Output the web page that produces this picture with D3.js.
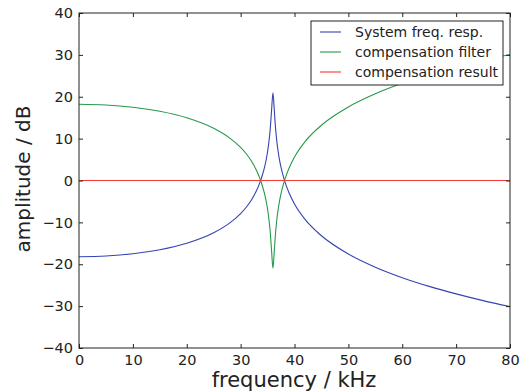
<!DOCTYPE html>
<html><head><meta charset="utf-8">
<script src="https://cdn.jsdelivr.net/npm/d3@7"></script>
<style>body{margin:0;background:#fff}svg{display:block}text{font-family:"DejaVu Sans",sans-serif;fill:#222}</style>
</head><body><svg id="c" width="521" height="392"></svg>
<script>
// frequency samples (kHz)
const freq = [0,5,10,15,20,25,28,30,31,32,33,33.5,34,34.5,34.75,35,35.25,35.5,35.75,36,36.25,36.5,36.75,37,37.25,37.5,38,38.5,39,40,42,45,50,55,60,65,70,75,80];
// system frequency response (dB)
const systemResp = [-18.2,-18.03,-17.5,-16.54,-14.99,-12.48,-10.13,-7.9,-6.45,-4.64,-2.27,-0.75,1.13,3.49,5.01,6.86,9.21,12.36,16.9,20.97,16.8,12.22,9.02,6.62,4.71,3.13,0.65,-1.35,-2.99,-5.61,-9.35,-13.2,-17.56,-20.7,-23.2,-25.28,-27.08,-28.68,-30.11];
// compensation filter (dB)
const compFilter = [18.2,18.03,17.5,16.54,14.99,12.48,10.13,7.9,6.45,4.64,2.27,0.75,-1.13,-3.49,-5.01,-6.86,-9.21,-12.36,-16.9,-20.97,-16.8,-12.22,-9.02,-6.62,-4.71,-3.13,-0.65,1.35,2.99,5.61,9.35,13.2,17.56,20.7,23.2,25.28,27.08,28.68,30.11];
// compensation result (dB)
const compResult = [0,0,0,0,0,0,0,0,0,0,0,0,0,0,0,0,0,0,0,0,0,0,0,0,0,0,0,0,0,0,0,0,0,0,0,0,0,0,0];
const xTicks = [0,10,20,30,40,50,60,70,80];
const yTicks = [-40,-30,-20,-10,0,10,20,30,40];
const seriesNames = ["System freq. resp.","compensation filter","compensation result"];
const colors = ["#3444b0","#259a48","#f23a3a"];

const svg = d3.select("#c");
const L=79,R=510,T=13,B=348;
const x = d3.scaleLinear().domain([0,80]).range([L,R]);
const y = d3.scaleLinear().domain([-40,40]).range([B,T]);

const g = svg.append("g");
svg.append("clipPath").attr("id","cl").append("rect").attr("x",L).attr("y",T).attr("width",R-L).attr("height",B-T);
const line = d3.line().x((d,i)=>x(freq[i])).y(d=>y(d)).curve(d3.curveMonotoneX);
const data=[systemResp,compFilter,compResult];
data.forEach((s,k)=>{
  g.append("path").attr("d",line(s)).attr("fill","none").attr("stroke",colors[k]).attr("stroke-width",1.1).attr("clip-path","url(#cl)");
});

// axes
const fs = 14.5;
const ax = d3.axisBottom(x).tickValues(xTicks).tickSize(-4).tickPadding(7).tickFormat(d=>String(d));
const axT = d3.axisTop(x).tickValues(xTicks).tickSize(-4).tickFormat("");
const ay = d3.axisLeft(y).tickValues(yTicks).tickSize(-4).tickPadding(6).tickFormat(d=>d<0?"\u2212"+(-d):String(d));
const ayR = d3.axisRight(y).tickValues(yTicks).tickSize(-4).tickFormat("");
function style(sel){sel.select(".domain").remove();sel.selectAll("line").attr("stroke","#222");sel.selectAll("text").attr("font-size",fs).attr("font-family","DejaVu Sans").attr("fill","#222");}
svg.append("g").attr("transform",`translate(0,${B})`).call(ax).call(style);
svg.append("g").attr("transform",`translate(0,${T})`).call(axT).call(style);
svg.append("g").attr("transform",`translate(${L},0)`).call(ay).call(style);
svg.append("g").attr("transform",`translate(${R},0)`).call(ayR).call(style);
svg.append("rect").attr("x",L).attr("y",T).attr("width",R-L).attr("height",B-T).attr("fill","none").attr("stroke","#222").attr("stroke-width",1);

svg.append("text").attr("x",294).attr("y",387).attr("text-anchor","middle").attr("font-size",21).text("frequency / kHz");
svg.append("text").attr("transform",`translate(30,179) rotate(-90)`).attr("text-anchor","middle").attr("font-size",20).text("amplitude / dB");

// legend
const lg = svg.append("g");
lg.append("rect").attr("x",311).attr("y",21).attr("width",192).attr("height",64).attr("fill","#fff").attr("stroke","#222").attr("stroke-width",1);
seriesNames.forEach((n,i)=>{
  const yy = 32+i*20;
  lg.append("line").attr("x1",320).attr("x2",341).attr("y1",yy).attr("y2",yy).attr("stroke",colors[i]).attr("stroke-width",1.1);
  lg.append("text").attr("x",355).attr("y",yy+5).attr("font-size",14).text(n);
});
</script></body></html>
